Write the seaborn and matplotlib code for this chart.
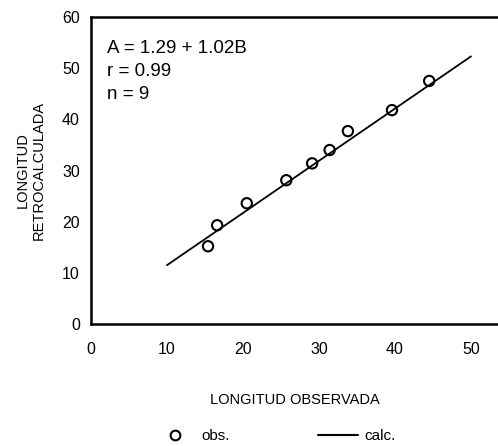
import matplotlib
matplotlib.use("Agg")
import matplotlib.pyplot as plt
import seaborn as sns
import pandas as pd
from matplotlib.lines import Line2D

# observed vs back-calculated lengths
obs_x = [15.4, 16.6, 20.5, 25.7, 29.1, 31.4, 33.8, 39.6, 44.5]
obs_y = [15.2, 19.3, 23.6, 28.1, 31.4, 34.0, 37.7, 41.8, 47.5]

# fitted line A = 1.29 + 1.02B
calc_x = [10, 50]
calc_y = [11.5, 52.3]

x_ticks = [0, 10, 20, 30, 40, 50]
y_ticks = [0, 10, 20, 30, 40, 50, 60]

sns.set_style("white", {'text.color': 'black', 'axes.labelcolor': 'black'})
plt.rcParams['font.family'] = ['Liberation Sans', 'DejaVu Sans']

obs = pd.DataFrame({'x': obs_x, 'y': obs_y})
calc = pd.DataFrame({'x': calc_x, 'y': calc_y})

fig = plt.figure(figsize=(4.98, 4.46), dpi=100)
ax = fig.add_axes([0.1827, 0.2735, 0.818, 0.6884])

sns.lineplot(data=calc, x='x', y='y', ax=ax, color='black', linewidth=1.3)
sns.scatterplot(data=obs, x='x', y='y', ax=ax, marker='o', s=55,
                facecolor='none', edgecolor='black', linewidth=1.5, zorder=3)

ax.set_xlim(0, 53.6)
ax.set_ylim(0, 60)
ax.set_xticks(x_ticks)
ax.set_yticks(y_ticks)
ax.tick_params(axis='both', labelsize=11.5, length=3, width=1, direction='out',
               colors='black', pad=5)
ax.tick_params(axis='x', length=0, pad=13)

for s in ['left', 'bottom', 'top']:
    ax.spines[s].set_color('black')
    ax.spines[s].set_linewidth(1.8)
ax.spines['right'].set_visible(False)

ax.set_xlabel('LONGITUD OBSERVADA', fontsize=10.5, labelpad=26, color='black')
ax.set_ylabel('LONGITUD\nRETROCALCULADA', fontsize=10.5, labelpad=12,
              linespacing=1.1, color='black')

ax.text(0.04, 0.925, 'A = 1.29 + 1.02B\nr = 0.99\nn = 9', transform=ax.transAxes,
        fontsize=13.5, va='top', ha='left', linespacing=1.45, color='black')

handles = [
    Line2D([], [], marker='o', linestyle='none', markerfacecolor='none',
           markeredgecolor='black', markeredgewidth=1.5, markersize=7),
    Line2D([], [], color='black', linewidth=1.5),
]
leg = fig.legend(handles, ['obs.', 'calc.'], loc='center', bbox_to_anchor=(0.553, 0.022),
                 ncol=2, frameon=False, fontsize=11, columnspacing=5.8, handlelength=2.6,
                 handletextpad=0.45, borderpad=0.2)
for t in leg.get_texts():
    t.set_color('black')

fig.savefig('out.png', dpi=100)
